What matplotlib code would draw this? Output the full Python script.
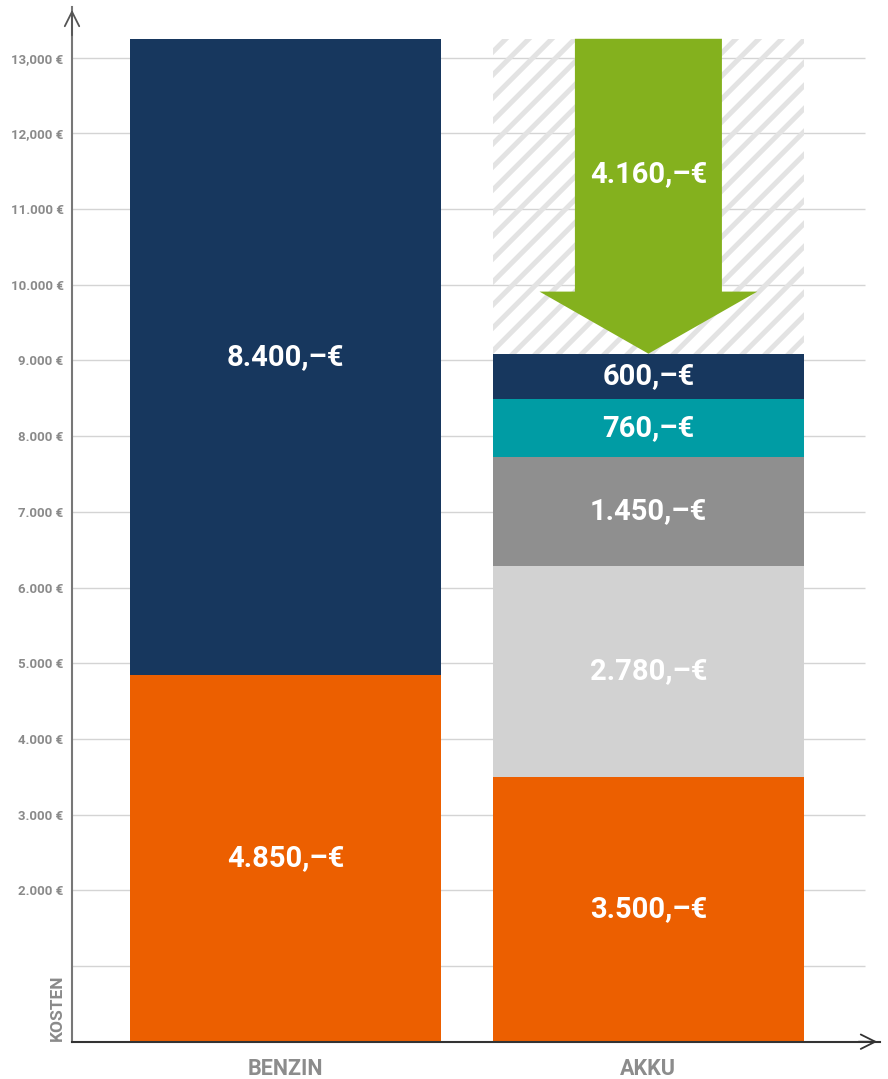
import numpy as np
import matplotlib.pyplot as plt
from matplotlib.patches import Rectangle, FancyArrow
from matplotlib.transforms import IdentityTransform

plt.rcParams['font.family'] = ['Roboto', 'DejaVu Sans']

categories = ['BENZIN', 'AKKU']
benzin_values = [4850, 8400]
benzin_colors = ['#ec5f00', '#17375e']
akku_values = [3500, 2780, 1450, 760, 600]
akku_colors = ['#ec5f00', '#d2d2d2', '#8f8f8f', '#009ca4', '#17375e']
savings = 4160
ytick_values = [1000, 2000, 3000, 4000, 5000, 6000, 7000, 8000, 9000, 10000, 11000, 12000, 13000]
ytick_labels = ['', '2.000 €', '3.000 €', '4.000 €', '5.000 €', '6.000 €', '7.000 €',
                '8.000 €', '9.000 €', '10.000 €', '11.000 €', '12,000 €', '13,000 €']


def fmt(v):
    return f'{v:,}'.replace(',', '.') + ',–€'


fig = plt.figure(figsize=(8.88, 10.79), dpi=100)
ax = fig.add_axes([72 / 888, (1079 - 1041.7) / 1079, 808 / 888, 1034.7 / 1079])
ax.set_xlim(-0.588, 1.638)
ax.set_ylim(0, 13670)

# grid
ax.hlines(ytick_values, -0.588, 1.596, color='#d4d4d4', lw=1, zorder=0)

w = 0.857
for xi, vals, cols in [(0, benzin_values, benzin_colors), (1, akku_values, akku_colors)]:
    bottom = 0
    for v, c in zip(vals, cols):
        ax.bar(xi, v, bottom=bottom, width=w, color=c, zorder=2)
        ax.text(xi, bottom + v / 2, fmt(v), color='white', fontsize=21, fontweight='bold',
                ha='center', va='center', zorder=4)
        bottom += v

# hatched area for savings
akku_total = sum(akku_values)
rect = Rectangle((1 - w / 2, akku_total), w, savings, facecolor='none', edgecolor='none')
ax.add_patch(rect)
fig.canvas.draw()
(x0, y0), (x1, y1) = ax.transData.transform([(1 - w / 2, akku_total), (1 + w / 2, akku_total + savings)])
h = y1 - y0
for s in np.arange(x0 - h - 30, x1 + 30, 23):
    ln, = ax.plot([s, s + h + 40], [y0 - 20, y1 + 20], transform=IdentityTransform(),
                  color='#e3e3e3', lw=3.6, solid_capstyle='butt', zorder=1)
    ln.set_clip_path(rect)

# savings arrow
arr = FancyArrow(1, akku_total + savings, 0, -savings, width=0.405, head_width=0.60,
                 head_length=820, length_includes_head=True, color='#84b11e', lw=0, zorder=3)
ax.add_patch(arr)
ax.text(1, akku_total + savings - 1790, fmt(savings), color='white', fontsize=21,
        fontweight='bold', ha='center', va='center', zorder=4)

# axes
for sp in ['top', 'right']:
    ax.spines[sp].set_visible(False)
ax.spines['left'].set_color('#777777')
ax.spines['left'].set_linewidth(1.5)
ax.spines['bottom'].set_color('#333333')
ax.spines['bottom'].set_linewidth(1.5)
ax.spines['left'].set_bounds(0, 13670)
ax.annotate('', xy=(0, 1.0), xytext=(0, 0.97), xycoords='axes fraction',
            arrowprops=dict(arrowstyle='->', color='#555555', lw=1.3, mutation_scale=26))
ax.annotate('', xy=(1.0, 0), xytext=(0.97, 0), xycoords='axes fraction',
            arrowprops=dict(arrowstyle='->', color='#333333', lw=1.3, mutation_scale=26))

ax.set_yticks(ytick_values)
ax.set_yticklabels(ytick_labels)
ax.tick_params(axis='y', length=0, pad=6, labelsize=9.5, labelcolor='#8a8a8a')
for t in ax.get_yticklabels():
    t.set_fontweight('bold')
ax.set_xticks([0, 1])
ax.set_xticklabels(categories)
ax.tick_params(axis='x', length=0, pad=12, labelsize=15.5, labelcolor='#8c8c8c')
for t in ax.get_xticklabels():
    t.set_fontweight('bold')

fig.text(57 / 888, (1079 - 1041) / 1079, 'KOSTEN', rotation=90, ha='center', va='bottom',
         fontsize=12.5, fontweight='bold', color='#8a8a8a')

fig.savefig('out.png', dpi=100)
